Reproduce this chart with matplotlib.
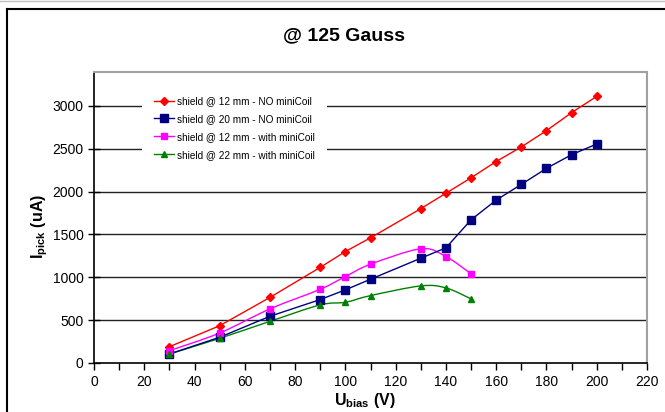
import matplotlib
matplotlib.use("Agg")
import matplotlib.pyplot as plt
from matplotlib.path import Path
from matplotlib.patches import PathPatch
from matplotlib.lines import Line2D
from matplotlib.ticker import MultipleLocator, FuncFormatter
import numpy as np

plt.rcParams['font.family'] = ['Liberation Sans', 'DejaVu Sans']
plt.rcParams['mathtext.fontset'] = 'custom'
plt.rcParams['mathtext.rm'] = 'Liberation Sans'
plt.rcParams['mathtext.bf'] = 'Liberation Sans:bold'
plt.rcParams['mathtext.it'] = 'Liberation Sans:italic'

# Bias voltage (V) and pick-up current (uA) for each configuration
u_bias_long = [30, 50, 70, 90, 100, 110, 130, 140, 150, 160, 170, 180, 190, 200]
u_bias_short = [30, 50, 70, 90, 100, 110, 130, 140, 150]

i_12mm_no_coil = [190, 435, 765, 1115, 1300, 1460, 1800, 1980, 2160, 2350, 2520, 2710, 2920, 3110]
i_20mm_no_coil = [105, 300, 545, 740, 853, 977, 1222, 1343, 1670, 1900, 2083, 2270, 2430, 2554]
i_12mm_with_coil = [144, 350, 631, 860, 1008, 1152, 1332, 1242, 1040]
i_22mm_with_coil = [105, 288, 486, 678, 708, 786, 899, 876, 748]

labels = [
    "shield @ 12 mm - NO miniCoil",
    "shield @ 20 mm - NO miniCoil",
    "shield @ 12 mm - with miniCoil",
    "shield @ 22 mm - with miniCoil",
]
colors = ["#FF0000", "#000080", "#FF00FF", "#008000"]

x_ticks = list(range(0, 221, 20))
y_ticks = list(range(0, 3001, 500))

W, H = 665, 412
fig = plt.figure(figsize=(W / 100, H / 100), dpi=100)
fig.patch.set_facecolor("white")

# outer chart frame
fig.add_artist(Line2D([7 / W, 7 / W], [0, 1 - 9 / H], color="black", lw=1.5, transform=fig.transFigure))
fig.add_artist(Line2D([7 / W, 1], [1 - 9 / H, 1 - 9 / H], color="black", lw=1.5, transform=fig.transFigure))
fig.add_artist(Line2D([0, 1], [1 - 0.5 / H, 1 - 0.5 / H], color="#C0C0C0", lw=1, transform=fig.transFigure))

ax = fig.add_axes([94 / W, 1 - 363 / H, (647 - 94) / W, (363 - 71.5) / H])
ax.set_xlim(0, 220)
ax.set_ylim(0, 3400)

for y in y_ticks[1:]:
    ax.axhline(y, color="#222222", lw=1.0, zorder=1)


def smooth_path(xs, ys):
    """Bezier path through the points, Catmull-Rom style (spreadsheet 'smoothed line')."""
    pts = np.column_stack([xs, ys]).astype(float)
    n = len(pts)
    verts = [pts[0]]
    codes = [Path.MOVETO]
    for i in range(n - 1):
        p0 = pts[i - 1] if i > 0 else pts[i]
        p1 = pts[i]
        p2 = pts[i + 1]
        p3 = pts[i + 2] if i + 2 < n else pts[i + 1]
        c1 = p1 + (p2 - p0) / 6.0
        c2 = p2 - (p3 - p1) / 6.0
        verts += [c1, c2, p2]
        codes += [Path.CURVE4] * 3
    return Path(verts, codes)


# straight series
ax.plot(u_bias_long, i_12mm_no_coil, color=colors[0], lw=1.0, marker="D", ms=4.5, zorder=4)
ax.plot(u_bias_long, i_20mm_no_coil, color=colors[1], lw=1.0, marker="s", ms=6, zorder=4)

# smoothed series
for xs, ys, c, m, ms in [
    (u_bias_short, i_12mm_with_coil, colors[2], "s", 5),
    (u_bias_short, i_22mm_with_coil, colors[3], "^", 5),
]:
    ax.add_patch(PathPatch(smooth_path(xs, ys), facecolor="none", edgecolor=c, lw=1.0, zorder=3))
    ax.plot(xs, ys, linestyle="none", marker=m, color=c, ms=ms, zorder=4)

handles = [
    Line2D([], [], color=colors[0], lw=1.0, marker="D", ms=4.5),
    Line2D([], [], color=colors[1], lw=1.0, marker="s", ms=6),
    Line2D([], [], color=colors[2], lw=1.0, marker="s", ms=5),
    Line2D([], [], color=colors[3], lw=1.0, marker="^", ms=5),
]
leg = ax.legend(handles, labels, loc="upper left",
                bbox_to_anchor=((142 - 94) / 553, (363 - 84) / 291.5),
                fontsize=7.2, frameon=True, fancybox=False, facecolor="white",
                edgecolor="none", framealpha=1, handlelength=2.0, handletextpad=0.3,
                labelspacing=0.79, borderpad=1.2, borderaxespad=0)
leg.set_zorder(5)

ax.xaxis.set_major_locator(MultipleLocator(10))
ax.xaxis.set_major_formatter(FuncFormatter(lambda v, p: f"{int(v)}" if int(round(v)) % 20 == 0 else ""))
ax.set_yticks(y_ticks)
ax.tick_params(axis="x", direction="out", length=5, width=1, labelsize=10, pad=4, colors="black")
ax.tick_params(axis="y", direction="inout", length=9, width=1, labelsize=10, pad=3, colors="black")

for s in ["left", "bottom"]:
    ax.spines[s].set_color("black")
    ax.spines[s].set_linewidth(1.2)
for s in ["top", "right"]:
    ax.spines[s].set_color("#A0A0A0")
    ax.spines[s].set_linewidth(1.5)

ax.set_xlabel(r"U$_{\mathbf{bias}}$ (V)", fontsize=11.5, fontweight="bold")
ax.xaxis.set_label_coords(0.49, -0.097)
ax.set_ylabel(r"I$_{\mathbf{pick}}$ (uA)", fontsize=11.5, fontweight="bold")
ax.yaxis.set_label_coords(-0.08, 0.47)

fig.text(344 / W, 1 - 36 / H, "@ 125 Gauss", ha="center", va="center", fontsize=14, fontweight="bold")

fig.savefig("out.png", dpi=100)
